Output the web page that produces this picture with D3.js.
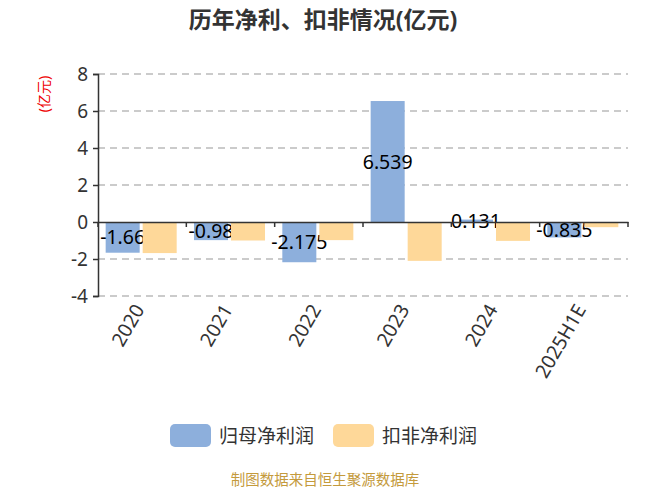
<!DOCTYPE html>
<html><head><meta charset="utf-8">
<script src="https://cdn.jsdelivr.net/npm/d3@7/dist/d3.min.js"></script>
<style>body{margin:0;background:#fff;} svg{display:block;font-family:"Noto Sans","Noto Sans CJK SC",sans-serif;}</style>
</head><body>
<svg id="c" width="650" height="488"></svg>
<script>
const categories = ["2020","2021","2022","2023","2024","2025H1E"];
const netProfit = [-1.66, -0.98, -2.175, 6.539, 0.131, -0.835];
const deductedProfit = [-1.68, -1.0, -0.98, -2.1, -1.02, -0.28];
const yTicks = [-4,-2,0,2,4,6,8];
const seriesNames = ["归母净利润","扣非净利润"];
const colors = ["#8dafdc","#fed899"];

(function(){
const svg = d3.select("#c");
const pl = 98, pr = 628, pt = 74, pb = 296;
const x = d3.scaleBand().domain(categories).range([pl, pr]);
const y = d3.scaleLinear().domain([-4, 8]).range([pb, pt]);

svg.append("text").attr("x", 323).attr("y", 28).attr("text-anchor","middle")
  .attr("font-size", 23).attr("font-weight","bold").attr("fill","#333").text("历年净利、扣非情况(亿元)");

svg.append("text").attr("transform","translate(49,94) rotate(-90)").attr("text-anchor","middle")
  .attr("font-size",14).attr("fill","#e00").text("(亿元)");

svg.append("g").selectAll("line").data(yTicks.filter(d=>d!==0)).join("line")
  .attr("x1", pl).attr("x2", pr).attr("y1", d=>y(d)).attr("y2", d=>y(d))
  .attr("stroke","#bbb").attr("stroke-width",1.5).attr("stroke-dasharray","7,5");

const ya = svg.append("g").attr("transform",`translate(${pl},0)`)
  .call(d3.axisLeft(y).tickValues(yTicks).tickSize(5).tickPadding(5).tickFormat(d=>String(d)));
ya.select(".domain").attr("stroke","#333").attr("stroke-width",1.5);
ya.selectAll(".tick line").attr("stroke","#333").attr("stroke-width",1.5);
ya.selectAll("text").attr("font-size",19).attr("fill","#333").attr("font-family","'Noto Sans',sans-serif");

const bw = x.bandwidth()*0.385, gap = 3;
const bx = (c, i) => x(c) + x.bandwidth()/2 - bw - gap/2 - 1 + i*(bw+gap);

svg.append("g").selectAll("rect").data(categories).join("rect")
  .attr("x", (c)=>bx(c,0)).attr("width", bw)
  .attr("y", (c,i)=>y(Math.max(0,netProfit[i]))).attr("height",(c,i)=>Math.abs(y(netProfit[i])-y(0)))
  .attr("fill", colors[0]);
svg.append("g").selectAll("text").data(categories).join("text")
  .attr("x", c=>bx(c,0)+bw/2).attr("y",(c,i)=>(y(netProfit[i])+y(0))/2)
  .attr("dy","0.36em").attr("text-anchor","middle").attr("font-size",19.5).attr("fill","#000")
  .text((c,i)=>netProfit[i]);
svg.append("g").selectAll("rect").data(categories).join("rect")
  .attr("x", (c)=>bx(c,1)).attr("width", bw)
  .attr("y", (c,i)=>y(Math.max(0,deductedProfit[i]))).attr("height",(c,i)=>Math.abs(y(deductedProfit[i])-y(0)))
  .attr("fill", colors[1]);

const xa = svg.append("g").attr("transform",`translate(0,${y(0)})`)
  .call(d3.axisBottom(x).tickSize(0).tickFormat(""));
xa.select(".domain").attr("stroke","#333").attr("stroke-width",1.5);
const bounds = categories.map(c=>x(c)).concat([pr]);
svg.append("g").selectAll("line").data(bounds).join("line")
  .attr("x1",d=>d).attr("x2",d=>d).attr("y1",y(0)).attr("y2",y(0)+5)
  .attr("stroke","#333").attr("stroke-width",1.5);

svg.append("g").selectAll("text").data(categories).join("text")
  .attr("transform", c=>`translate(${x(c)+x.bandwidth()/2-3},${pb+10}) rotate(-60)`)
  .attr("text-anchor","end").attr("dy","0.35em").attr("font-size",19.5).attr("fill","#333").text(c=>c);

const lg = svg.append("g");
const lx = [170, 333];
seriesNames.forEach((n,i)=>{
  lg.append("rect").attr("x",lx[i]).attr("y",424).attr("width",41).attr("height",23).attr("rx",5)
    .attr("fill",colors[i]);
  lg.append("text").attr("x",lx[i]+49).attr("y",436).attr("dy","0.36em").attr("font-size",19)
    .attr("fill","#333").text(n);
});

svg.append("text").attr("x",325).attr("y",485).attr("text-anchor","middle").attr("font-size",14.5)
  .attr("fill","#c49a3c").text("制图数据来自恒生聚源数据库");
})();
</script>
</body></html>
